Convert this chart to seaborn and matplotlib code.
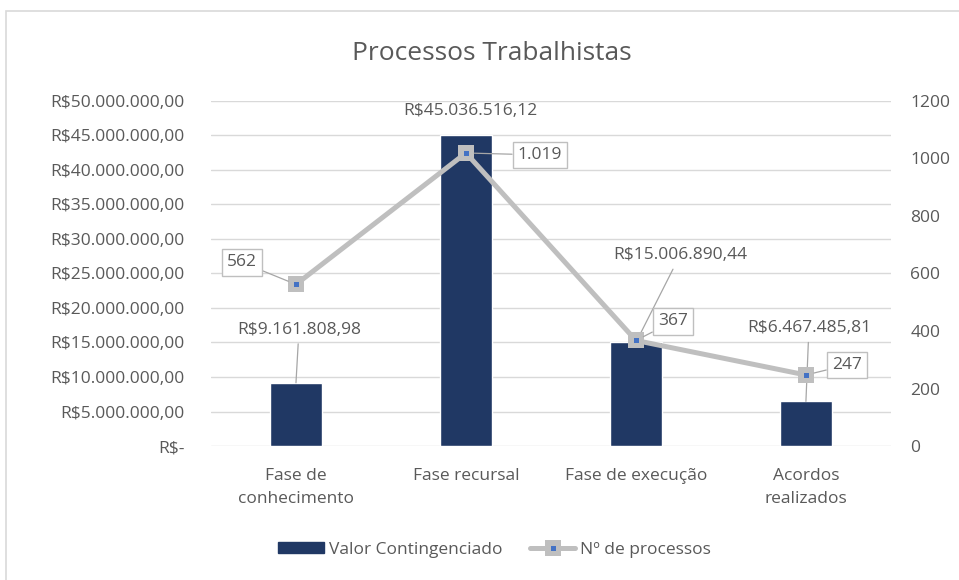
import numpy as np
import pandas as pd
import matplotlib.pyplot as plt
import seaborn as sns
from matplotlib.lines import Line2D
from matplotlib.patches import Patch, Rectangle
from matplotlib.legend_handler import HandlerTuple
from matplotlib.ticker import FuncFormatter, MultipleLocator

# dados
categorias = ["Fase de\nconhecimento", "Fase recursal", "Fase de execução", "Acordos\nrealizados"]
valores = [9161808.98, 45036516.12, 15006890.44, 6467485.81]
processos = [562, 1019, 367, 247]


def reais(v, pos=None):
    if v == 0:
        return "R$-"
    s = f"{v:,.2f}".replace(",", "X").replace(".", ",").replace("X", ".")
    return "R$" + s


def milhar(v):
    return f"{v:,}".replace(",", ".")


CINZA_TXT = "#595959"
AZUL = "#203864"
CINZA_LINHA = "#BFBFBF"

sns.set_theme(style="white")
plt.rcParams["font.family"] = ["Open Sans", "DejaVu Sans"]

fig = plt.figure(figsize=(9.59, 5.8), dpi=100)
fig.patches.append(Rectangle((6 / 959, -0.1), 1.2, 1 - 11 / 580 + 0.1, transform=fig.transFigure,
                             fill=False, edgecolor="#D9D9D9", lw=1.2))

ax = fig.add_axes([0.22, 0.231, 0.709, 0.595])
df = pd.DataFrame({"categoria": categorias, "valor": valores, "processos": processos})

sns.barplot(data=df, x="categoria", y="valor", color=AZUL, saturation=1, width=0.31, ax=ax)
ax.set_ylim(0, 50_000_000)
ax.yaxis.set_major_locator(MultipleLocator(5_000_000))
ax.yaxis.set_major_formatter(FuncFormatter(reais))
ax.grid(axis="y", color="#D9D9D9", lw=1)
ax.set_axisbelow(True)
ax.set_xlabel("")
ax.set_ylabel("")
ax.tick_params(axis="y", length=0, pad=19, labelsize=12.5, labelcolor=CINZA_TXT)
ax.tick_params(axis="x", length=0, pad=16, labelsize=12.5, labelcolor=CINZA_TXT)
for lab in ax.get_xticklabels():
    lab.set_linespacing(1.6)
    lab.set_multialignment("center")
sns.despine(ax=ax, left=True, bottom=True)

ax2 = ax.twinx()
sns.pointplot(data=df, x="categoria", y="processos", color=CINZA_LINHA, errorbar=None,
              marker="s", markersize=11.5, linewidth=3.6, markeredgewidth=0, ax=ax2)
sns.pointplot(data=df, x="categoria", y="processos", color="#4472C4", errorbar=None,
              marker="s", markersize=3.6, linestyle="none", markeredgewidth=0, ax=ax2)
ax2.set_ylim(0, 1200)
ax2.yaxis.set_major_locator(MultipleLocator(200))
ax2.set_ylabel("")
ax2.set_xlabel("")
ax2.grid(False)
ax2.tick_params(axis="y", length=0, pad=14, labelsize=12.5, labelcolor=CINZA_TXT)
sns.despine(ax=ax2, left=True, bottom=True, right=True)
ax.set_xlim(-0.5, len(categorias) - 0.5)

# rótulos das barras
desloc_barras = [(3, 53), (4, 24), (44, 87), (3, 73)]
guia_barras = [True, False, True, True]
for bar, v, d, g in zip(ax.patches, valores, desloc_barras, guia_barras):
    x = bar.get_x() + bar.get_width() / 2
    ax.annotate(reais(v), xy=(x, bar.get_height()), xytext=d, textcoords="offset pixels",
                ha="center", va="center", fontsize=12.5, color=CINZA_TXT,
                arrowprops=dict(arrowstyle="-", color="#A6A6A6", lw=0.9, shrinkA=2, shrinkB=0) if g else None)

# rótulos da linha
desloc_linha = [(-54, 22), (74, -2), (37, 19), (41, 10)]
pontos = ax2.lines[0].get_xydata()
for (x, y), d in zip(pontos, desloc_linha):
    ax2.annotate(milhar(int(round(y))), xy=(x, y), xytext=d, textcoords="offset pixels",
                 ha="center", va="center", fontsize=12.5, color=CINZA_TXT, zorder=5,
                 bbox=dict(boxstyle="square,pad=0.3", fc="white", ec=CINZA_LINHA, lw=1),
                 arrowprops=dict(arrowstyle="-", color="#A6A6A6", lw=0.9, shrinkA=0, shrinkB=6))

fig.text(0.513, 0.908, "Processos Trabalhistas", ha="center", va="center", fontsize=19, color=CINZA_TXT)

h_barra = Patch(facecolor=AZUL, edgecolor=AZUL)
h_linha = (Line2D([], [], color=CINZA_LINHA, lw=3.6, marker="s", markersize=11.5, markeredgewidth=0),
           Line2D([], [], color="#4472C4", lw=0, marker="s", markersize=3.6, markeredgewidth=0))
fig.legend([h_barra, h_linha], ["Valor Contingenciado", "Nº de processos"],
           handler_map={tuple: HandlerTuple(ndivide=1)},
           loc="center", bbox_to_anchor=(0.516, 0.052), ncol=2, frameon=False,
           fontsize=12.5, labelcolor=CINZA_TXT, handlelength=2.6, handleheight=0.6,
           columnspacing=1.6, handletextpad=0.3)

fig.savefig("out.png", dpi=100)
